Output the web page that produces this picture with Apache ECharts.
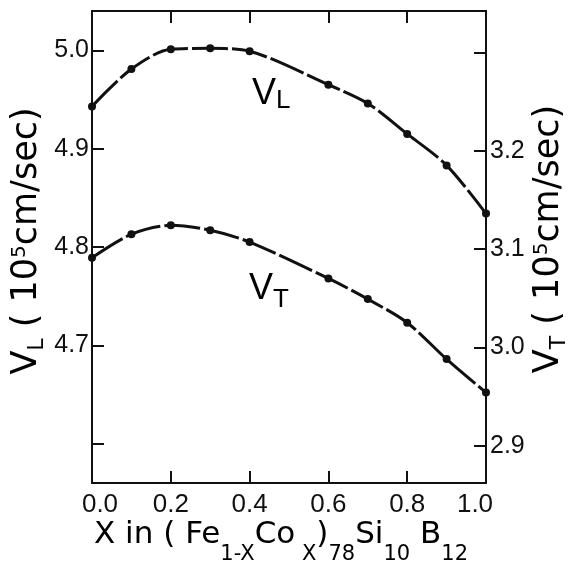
<!DOCTYPE html>
<html>
<head>
<meta charset="utf-8">
<script src="https://cdn.jsdelivr.net/npm/echarts@6/dist/echarts.min.js"></script>
<style>
    html, body {margin: 0; padding: 0; background: #fff;}
    #chartWrap {width: 569px; height: 565px;}
</style>
</head>
<body>
<div id="chartWrap"></div>
<script>
// Co fraction X
var xValues = [0.0, 0.1, 0.2, 0.3, 0.4, 0.6, 0.7, 0.8, 0.9, 1.0];
// longitudinal velocity V_L, 10^5 cm/sec (left axis)
var vL = [4.943, 4.981, 5.001, 5.002, 4.999, 4.965, 4.946, 4.915, 4.883, 4.834];
// transverse velocity V_T, 10^5 cm/sec (right axis)
var vT = [3.091, 3.115, 3.124, 3.119, 3.107, 3.070, 3.049, 3.025, 2.988, 2.954];

var vLTicks = [4.6, 4.7, 4.8, 4.9, 5.0];
var vLLabels = [4.7, 4.8, 4.9, 5.0];
var vTTicks = [2.9, 3.0, 3.1, 3.2, 3.3];
var vTLabels = [2.9, 3.0, 3.1, 3.2];

var vLRange = [4.56, 5.04];
var vTRange = [2.862, 3.342];

var ink = '#111';
var tickFont = 'Liberation Sans';
var titleFont = 'DejaVu Sans';

var myChart = echarts.init(document.getElementById('chartWrap'));

function pairs(ys) {
    return xValues.map(function (x, i) {
        return [x, ys[i]];
    });
}

function fmt(v) {
    return Number(v).toFixed(1);
}

// end labels of the X axis are nudged inward, like the original
function fmtX(v) {
    var s = Number(v).toFixed(1);
    if (v <= 0) return '{l|' + s + '}';
    if (v >= 1) return '{r|' + s + '}';
    return s;
}

function axisLine() {
    return {show: true, onZero: false, lineStyle: {color: ink, width: 2}};
}

function tick(values) {
    var t = {show: true, inside: true, length: 12, lineStyle: {color: ink, width: 2}};
    if (values) t.customValues = values;
    return t;
}

// label-less axis that only carries the inward ticks
function xTickAxis(pos) {
    return {
        type: 'value', position: pos, min: 0, max: 1, interval: 0.2,
        axisLine: axisLine(), axisTick: tick(), splitLine: {show: false},
        axisLabel: {show: false}
    };
}

function yTickAxis(pos, range, values) {
    return {
        type: 'value', position: pos, min: range[0], max: range[1],
        axisLine: axisLine(), axisTick: tick(values), splitLine: {show: false},
        axisLabel: {show: false}
    };
}

// rich styles for sub/superscripts
var mainTok = {fontFamily: titleFont, fontSize: 35, lineHeight: 35, verticalAlign: 'top', color: ink};
var subTok = {fontFamily: titleFont, fontSize: 22, lineHeight: 22, verticalAlign: 'top', padding: [17, 0, 0, 0], color: ink};
var supTok = {fontFamily: titleFont, fontSize: 20, lineHeight: 20, verticalAlign: 'top', color: ink};

var xm = {fontFamily: titleFont, fontSize: 31, lineHeight: 31, verticalAlign: 'top', color: ink};
var xs = {fontFamily: titleFont, fontSize: 21, lineHeight: 21, verticalAlign: 'top', padding: [25, 0, 0, 0], color: ink};

var lm = {fontFamily: tickFont, fontSize: 36, lineHeight: 36, verticalAlign: 'top', color: ink};
var ls = {fontFamily: tickFont, fontSize: 26, lineHeight: 26, verticalAlign: 'top', padding: [12, 0, 0, 0], color: ink};

function lineSeries(name, axisIndex, ys) {
    return {
        name: name,
        type: 'line',
        yAxisIndex: axisIndex,
        data: pairs(ys),
        smooth: 0.3,
        symbol: 'circle',
        symbolSize: 8,
        itemStyle: {color: ink},
        lineStyle: {color: ink, width: 3, type: [36, 4]},
        emphasis: {disabled: true}
    };
}

myChart.setOption({
    animation: false,
    backgroundColor: '#fff',
    grid: {left: 92, right: 83, top: 11, bottom: 82, containLabel: false},
    xAxis: [
        {
            type: 'value',
            position: 'bottom',
            min: 0,
            max: 1,
            interval: 0.2,
            axisLine: axisLine(),
            axisTick: {show: false},
            splitLine: {show: false},
            axisLabel: {
                formatter: fmtX,
                color: ink,
                fontFamily: tickFont,
                fontSize: 26,
                margin: 9,
                rich: {
                    l: {fontFamily: tickFont, fontSize: 26, color: ink, padding: [0, 0, 0, 16]},
                    r: {fontFamily: tickFont, fontSize: 26, color: ink, padding: [0, 22, 0, 0]}
                }
            }
        },
        xTickAxis('top'),
        xTickAxis('bottom')
    ],
    yAxis: [
        {
            type: 'value',
            position: 'left',
            min: vLRange[0],
            max: vLRange[1],
            axisLine: axisLine(),
            axisTick: {show: false},
            splitLine: {show: false},
            axisLabel: {
                customValues: vLLabels,
                formatter: fmt,
                color: ink,
                fontFamily: tickFont,
                fontSize: 25,
                margin: 3
            }
        },
        {
            type: 'value',
            position: 'right',
            min: vTRange[0],
            max: vTRange[1],
            axisLine: axisLine(),
            axisTick: {show: false},
            splitLine: {show: false},
            axisLabel: {
                customValues: vTLabels,
                formatter: fmt,
                color: ink,
                fontFamily: tickFont,
                fontSize: 25,
                margin: 4
            }
        },
        yTickAxis('left', vLRange, vLTicks),
        yTickAxis('right', vTRange, vTTicks)
    ],
    series: [
        lineSeries('VL', 0, vL),
        lineSeries('VT', 1, vT)
    ],
    graphic: [
        {
            type: 'text',
            x: 27,
            y: 241,
            rotation: Math.PI / 2,
            style: {
                text: '{m|V}{s|L}{m| ( 10}{p|5}{m|cm/sec)}',
                align: 'center',
                verticalAlign: 'middle',
                rich: {m: mainTok, s: subTok, p: supTok}
            }
        },
        {
            type: 'text',
            x: 549,
            y: 239,
            rotation: Math.PI / 2,
            style: {
                text: '{m|V}{s|T}{m| ( 10}{p|5}{m|cm/sec)}',
                align: 'center',
                verticalAlign: 'middle',
                rich: {m: mainTok, s: subTok, p: supTok}
            }
        },
        {
            type: 'text',
            x: 281,
            y: 519,
            style: {
                text: '{m|X in ( Fe}{s|1-X}{m|Co}{s| X}{m|)}{s|78}{m|Si}{s|10}{m| B}{s|12}',
                align: 'center',
                verticalAlign: 'top',
                rich: {m: xm, s: xs}
            }
        },
        {
            type: 'text',
            x: 252,
            y: 76,
            style: {
                text: '{m|V}{s|L}',
                align: 'left',
                verticalAlign: 'top',
                rich: {m: lm, s: ls}
            }
        },
        {
            type: 'text',
            x: 249,
            y: 271,
            style: {
                text: '{m|V}{s|T}',
                align: 'left',
                verticalAlign: 'top',
                rich: {m: lm, s: Object.assign({}, ls, {padding: [16, 0, 0, 0]})}
            }
        }
    ]
});
</script>
</body>
</html>
